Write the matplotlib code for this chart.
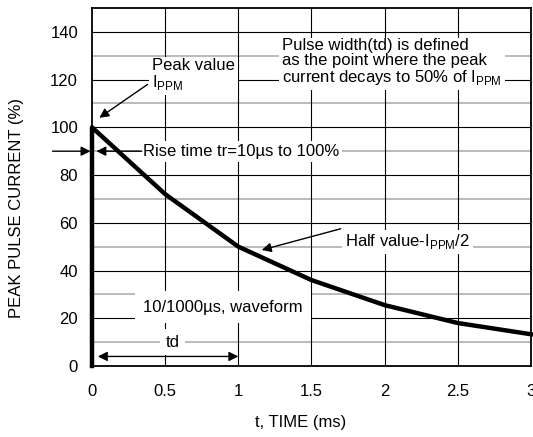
import matplotlib
matplotlib.use("Agg")
import matplotlib.pyplot as plt

plt.rcParams['font.family'] = ['Liberation Sans', 'DejaVu Sans']

# Forma de onda 10/1000us
tempo = [0, 0, 0.5, 1.0, 1.5, 2.0, 2.5, 3.0]
corrente = [0, 100, 72, 50, 36, 25.5, 18, 13.3]

x_ticks = [0, 0.5, 1, 1.5, 2, 2.5, 3]
x_labels = ["0", "0.5", "1", "1.5", "2", "2.5", "3"]
y_ticks = [0, 20, 40, 60, 80, 100, 120, 140]
y_minor = [10, 30, 50, 70, 90, 110, 130]

fig = plt.figure(figsize=(5.33, 4.37), dpi=100)
ax = fig.add_axes([0.1726, 0.1625, 0.8236, 0.8192])

ax.set_xlim(0, 3)
ax.set_ylim(0, 150)

# grade: linhas cinzas nos valores impares e pretas nos principais
for v in y_minor:
    ax.axhline(v, color="#b4b4b4", lw=1.3, zorder=1)
for v in y_ticks[1:]:
    ax.axhline(v, color="black", lw=0.8, zorder=1)
for v in x_ticks[1:-1]:
    ax.axvline(v, color="black", lw=0.8, zorder=1)

ax.plot(tempo, corrente, color="black", lw=3.2, solid_joinstyle="round", zorder=5, clip_on=False)

fs = 12
ax.set_xticks(x_ticks)
ax.set_xticklabels(x_labels)
ax.set_yticks(y_ticks)
ax.tick_params(length=0, labelsize=fs)
ax.tick_params(axis="x", pad=13)
ax.tick_params(axis="y", pad=10)
for s in ax.spines.values():
    s.set_linewidth(1.3)
    s.set_zorder(6)

# rotulos dos eixos
fig.text(301 / 533, 1 - 423 / 437, "t, TIME (ms)", fontsize=fs, ha="center", va="center")
fig.text(17 / 533, 1 - 208 / 437, "PEAK PULSE CURRENT (%)", fontsize=fs, ha="center",
         va="center", rotation=90)

caixa = dict(facecolor="white", edgecolor="none", pad=2)

ax.text(0.41, 122, "Peak value\nI$_{\\mathregular{PPM}}$", fontsize=fs, ha="left", va="center",
        bbox=caixa, zorder=3, linespacing=1.0)
ax.text(1.30, 127, "Pulse width(td) is defined\nas the point where the peak\ncurrent decays to 50% of I$_{\\mathregular{PPM}}$",
        fontsize=fs, ha="left", va="center", bbox=caixa, zorder=3, linespacing=1.0)
ax.text(0.35, 90, "Rise time tr=10\u00b5s to 100%", fontsize=fs, ha="left", va="center",
        bbox=caixa, zorder=3)
ax.text(1.73, 52, "Half value-I$_{\\mathregular{PPM}}$/2", fontsize=fs, ha="left", va="center",
        bbox=caixa, zorder=3)
ax.text(0.35, 24.7, "10/1000\u00b5s, waveform", fontsize=fs, ha="left", va="center",
        bbox=dict(facecolor="white", edgecolor="none", pad=6), zorder=3)
ax.text(0.55, 10, "td", fontsize=fs, ha="center", va="center",
        bbox=dict(facecolor="white", edgecolor="none", pad=4), zorder=3)

seta = dict(arrowstyle="-|>", color="black", lw=1, mutation_scale=14, shrinkA=0, shrinkB=0)
ax.annotate("", xy=(0.05, 104), xytext=(0.38, 118), arrowprops=seta, zorder=7)
ax.annotate("", xy=(0.03, 90), xytext=(0.34, 90), arrowprops=seta, zorder=7)
ax.annotate("", xy=(-0.01, 90), xytext=(-0.27, 90), arrowprops=seta, zorder=7,
            annotation_clip=False)
ax.annotate("", xy=(1.16, 48.6), xytext=(1.70, 57.5), arrowprops=seta, zorder=7)
ax.annotate("", xy=(0.04, 4), xytext=(1.0, 4),
            arrowprops=dict(arrowstyle="<|-|>", color="black", lw=1, mutation_scale=14,
                            shrinkA=0, shrinkB=0), zorder=7)

plt.savefig("out.png", dpi=100)
